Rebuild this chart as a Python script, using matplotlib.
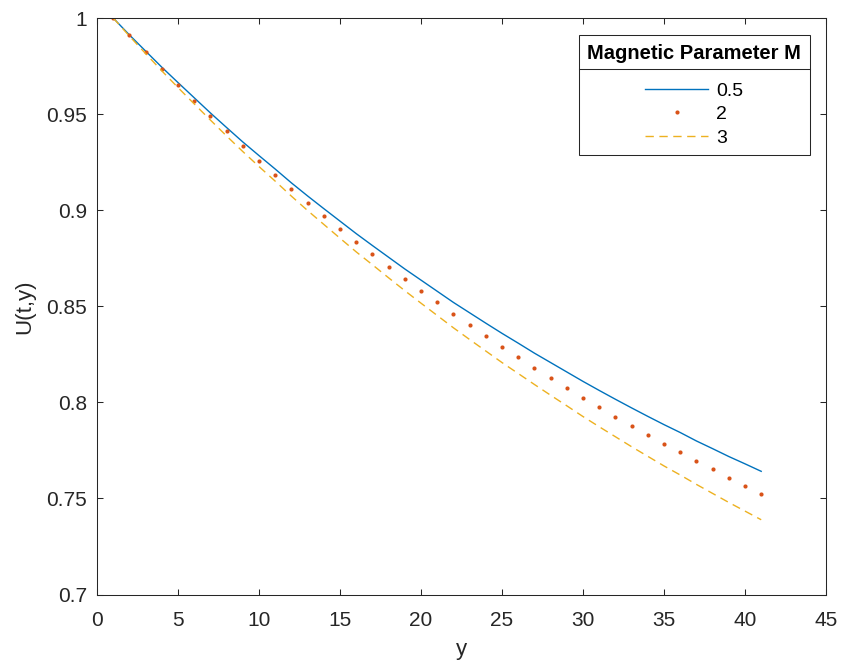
import matplotlib
matplotlib.use("Agg")
import matplotlib.pyplot as plt
from matplotlib.lines import Line2D

plt.rcParams['font.family'] = ['Liberation Sans', 'DejaVu Sans']

y_pos = list(range(1, 42))

u_m05 = [1.0000, 0.9912, 0.9828, 0.9744, 0.9664, 0.9585, 0.9506, 0.9430, 0.9355, 0.9284,
         0.9214, 0.9142, 0.9074, 0.9008, 0.8943, 0.8878, 0.8816, 0.8755, 0.8694, 0.8636,
         0.8578, 0.8520, 0.8466, 0.8412, 0.8359, 0.8308, 0.8256, 0.8207, 0.8158, 0.8109,
         0.8062, 0.8016, 0.7971, 0.7927, 0.7884, 0.7843, 0.7799, 0.7759, 0.7718, 0.7680,
         0.7641]
u_m2 = [1.0000, 0.9909, 0.9822, 0.9735, 0.9652, 0.9570, 0.9489, 0.9410, 0.9332, 0.9258,
        0.9185, 0.9110, 0.9039, 0.8970, 0.8902, 0.8834, 0.8770, 0.8706, 0.8642, 0.8581,
        0.8520, 0.8459, 0.8402, 0.8345, 0.8289, 0.8235, 0.8181, 0.8129, 0.8077, 0.8025,
        0.7975, 0.7926, 0.7878, 0.7831, 0.7785, 0.7741, 0.7695, 0.7652, 0.7608, 0.7567,
        0.7525]
u_m3 = [1.0000, 0.9906, 0.9815, 0.9725, 0.9638, 0.9553, 0.9469, 0.9386, 0.9305, 0.9227,
        0.9151, 0.9073, 0.8998, 0.8926, 0.8854, 0.8783, 0.8716, 0.8648, 0.8581, 0.8516,
        0.8452, 0.8388, 0.8327, 0.8267, 0.8207, 0.8150, 0.8093, 0.8037, 0.7982, 0.7926,
        0.7873, 0.7821, 0.7769, 0.7719, 0.7669, 0.7622, 0.7573, 0.7526, 0.7479, 0.7434,
        0.7389]

labels = ['0.5', '2', '3']
x_ticks = [0, 5, 10, 15, 20, 25, 30, 35, 40, 45]
y_ticks = [0.7, 0.75, 0.8, 0.85, 0.9, 0.95, 1.0]
y_tick_labels = ['0.7', '0.75', '0.8', '0.85', '0.9', '0.95', '1']

fig = plt.figure(figsize=(8.41, 6.63), dpi=100)
ax = fig.add_axes([97/841, 1 - 594.5/663, 729/841, 576.5/663])

ax.plot(y_pos, u_m05, color='#0072BD', lw=1.0, label=labels[0])
ax.plot(y_pos, u_m2, color='#D95319', lw=0, marker='o', markersize=3.0,
        markeredgewidth=0, label=labels[1])
ax.plot(y_pos, u_m3, color='#EDB120', lw=1.0, dashes=(6, 4), label=labels[2])

ax.set_xlim(0, 45)
ax.set_ylim(0.7, 1.0)
ax.set_xticks(x_ticks)
ax.set_yticks(y_ticks)
ax.set_yticklabels(y_tick_labels)

dark = '#262626'
for s in ax.spines.values():
    s.set_color(dark)
    s.set_linewidth(0.75)
ax.tick_params(direction='in', length=4.5, width=0.75, colors=dark,
               labelsize=15, top=True, right=True)
ax.tick_params(axis='x', pad=12)
ax.tick_params(axis='y', pad=7)

ax.set_xlabel('y', fontsize=16, color=dark, labelpad=6)
ax.set_ylabel('U(t,y)', fontsize=16, color=dark, labelpad=8)

leg = ax.legend(loc='upper right', bbox_to_anchor=(810/841, 1 - 35/663),
                bbox_transform=fig.transFigure,
                title='Magnetic Parameter M', fontsize=14, handlelength=3.25,
                frameon=True, fancybox=False, framealpha=1, edgecolor=dark,
                alignment='center', borderpad=0.45, labelspacing=0.3,
                handletextpad=0.4, borderaxespad=0)
leg.get_title().set_fontweight('bold')
leg.get_title().set_fontsize(14.5)
leg._legend_box.sep = 14
leg.get_frame().set_linewidth(0.75)

fig.canvas.draw()
r = fig.canvas.get_renderer()
fb = leg.get_frame().get_window_extent(r)
tb = leg.get_title().get_window_extent(r)
ysep = tb.y0 - 6
sep = Line2D([fb.x0, fb.x1], [ysep, ysep], transform=None, color=dark, lw=0.75)
fig.add_artist(sep)

fig.savefig('out.png', dpi=100)
